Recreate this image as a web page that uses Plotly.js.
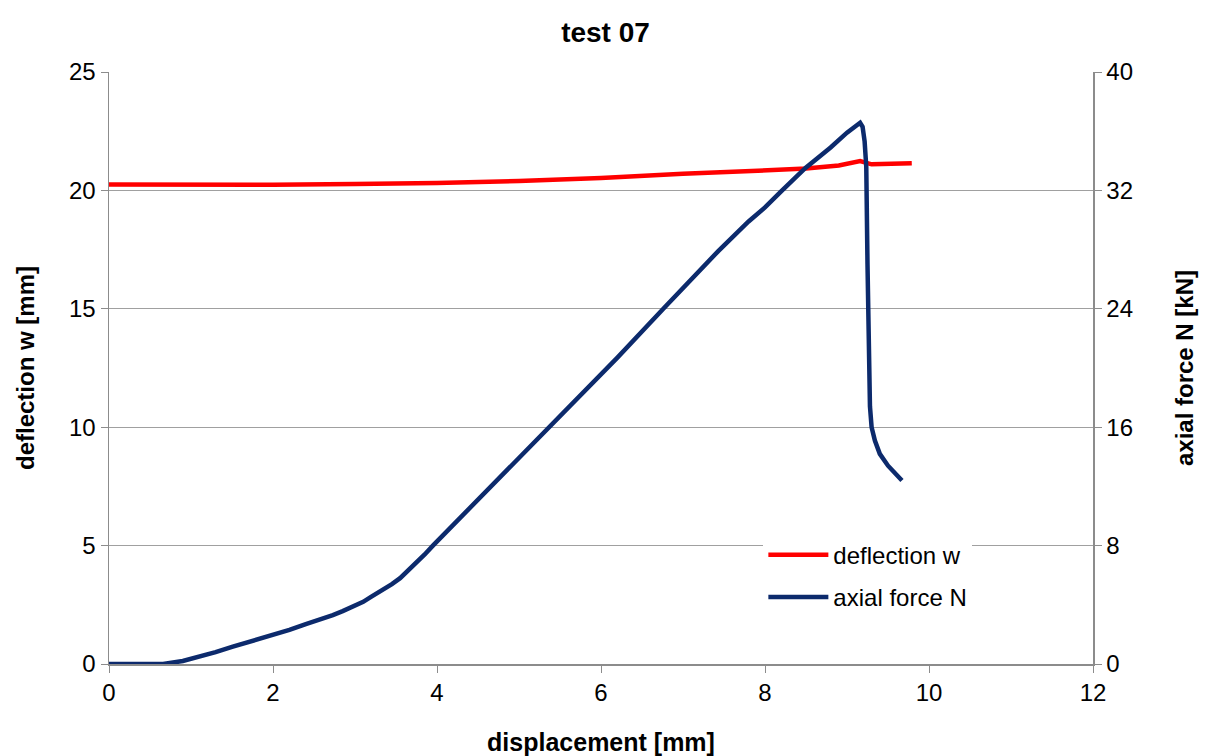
<!DOCTYPE html>
<html>
<head>
<meta charset="utf-8">
<script src="https://cdn.plot.ly/plotly-3.0.1.min.js"></script>
<style>html,body{margin:0;padding:0;background:#fff;}#chart{width:1211px;height:756px;}</style>
</head>
<body>
<div id="chart"></div>
<script>
// deflection w (left axis, mm)
const dispW = [0, 1, 2, 3, 4, 5, 6, 7, 8, 8.5, 8.9, 9.16, 9.3, 9.6, 9.79];
const deflW = [20.25, 20.24, 20.24, 20.27, 20.31, 20.4, 20.52, 20.7, 20.83, 20.92, 21.05, 21.24, 21.1, 21.12, 21.15];

// axial force N (right axis, kN)
const dispN = [0, 0.3, 0.66, 0.9, 1.11, 1.3, 1.51, 1.75, 2.0, 2.2, 2.4, 2.6, 2.73, 2.85, 3.0, 3.1, 3.2, 3.34, 3.45, 3.55, 3.65, 3.75, 3.85, 3.95, 4.2, 4.6, 5.0, 5.38, 5.8, 6.2, 6.76, 7.21, 7.43, 7.8, 8.0, 8.2, 8.49, 8.8, 9.0, 9.16, 9.19, 9.215, 9.235, 9.25, 9.26, 9.28, 9.30, 9.34, 9.40, 9.50, 9.67];
const forceN = [0, 0, 0, 0.2, 0.5, 0.8, 1.17, 1.55, 1.96, 2.3, 2.7, 3.05, 3.3, 3.57, 3.9, 4.2, 4.55, 5.0, 5.4, 5.8, 6.3, 6.9, 7.4, 8.0, 9.4, 11.7, 13.9, 16.0, 18.4, 20.7, 24.0, 26.6, 27.9, 29.9, 30.85, 31.95, 33.5, 34.9, 35.9, 36.57, 36.3, 35.3, 33.6, 27.0, 21.5, 17.4, 16.0, 15.1, 14.2, 13.4, 12.4];

const xTicks = [0, 2, 4, 6, 8, 10, 12];
const yTicks = [0, 5, 10, 15, 20, 25];
const y2Ticks = [0, 8, 16, 24, 32, 40];

const fontFam = 'Liberation Sans, Arial, sans-serif';
const axisColor = '#8c8c8c';

const traces = [
  {x: dispW, y: deflW, name: 'deflection w', type: 'scatter', mode: 'lines', legendgroup: 'a',
   line: {color: '#ff0000', width: 4.5}, yaxis: 'y'},
  {x: dispN, y: forceN, name: 'axial force N', type: 'scatter', mode: 'lines', legendgroup: 'b',
   line: {color: '#0c2a6c', width: 4.5}, yaxis: 'y2'}
];

const layout = {
  width: 1211, height: 756,
  paper_bgcolor: '#ffffff', plot_bgcolor: '#ffffff',
  margin: {l: 109, r: 118, t: 72, b: 92},
  font: {family: fontFam, size: 24, color: '#000'},
  title: {text: '<b>test 07</b>', x: 0.5, xanchor: 'center', y: 0.958, yanchor: 'middle',
          font: {family: fontFam, size: 28, color: '#000'}},
  showlegend: true,
  legend: {x: 0.665, y: 0.222, xanchor: 'left', yanchor: 'top', bgcolor: '#ffffff',
           font: {family: fontFam, size: 24, color: '#000'}, itemwidth: 60,
           traceorder: 'grouped', tracegroupgap: 8},
  xaxis: {range: [0, 12], tickvals: xTicks, ticktext: xTicks.map(String),
          showgrid: false, zeroline: false, showline: true, linecolor: axisColor, linewidth: 1.5,
          ticks: 'outside', ticklen: 7, tickcolor: axisColor, tickfont: {size: 24},
          title: {text: '<b>displacement [mm]</b>', font: {size: 25}, standoff: 30}},
  yaxis: {range: [0, 25], tickvals: yTicks, ticktext: yTicks.map(String),
          showgrid: true, gridcolor: '#a0a0a0', gridwidth: 1.3, zeroline: false,
          showline: true, linecolor: axisColor, linewidth: 1.5,
          ticks: 'outside', ticklen: 7, tickcolor: axisColor, tickfont: {size: 24},
          title: {text: '<b>deflection w [mm]</b>', font: {size: 24}, standoff: 27}},
  yaxis2: {range: [0, 40], tickvals: y2Ticks, ticktext: y2Ticks.map(String),
           overlaying: 'y', side: 'right', showgrid: false, zeroline: false,
           showline: true, linecolor: axisColor, linewidth: 1.5,
           ticks: 'outside', ticklen: 7, tickcolor: axisColor, tickfont: {size: 24},
           title: {text: '<b>axial force N [kN]</b>', font: {size: 24}, standoff: 44}}
};

Plotly.newPlot('chart', traces, layout, {displayModeBar: false, staticPlot: true});
</script>
</body>
</html>
